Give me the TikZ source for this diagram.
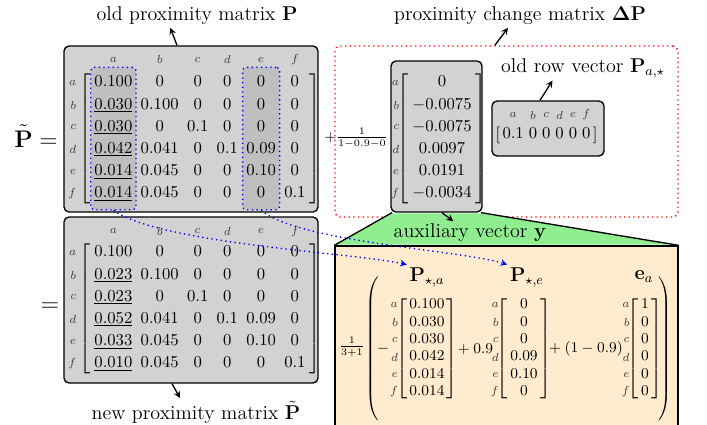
\documentclass[tikz,border=0pt]{standalone}
\usepackage{amsmath, amssymb}
\usepackage{tikz}
\usetikzlibrary{matrix, fit, backgrounds, arrows, positioning}
\definecolor{auxgreen}{RGB}{144,238,144}
\definecolor{auxorange}{RGB}{255,235,205}

\begin{document}
\begin{tikzpicture}[
  x=0.6pt, y=0.6pt,
  box/.style={draw, thick, rounded corners=3pt, fill=gray!35, inner sep=0pt},
  dashbox/.style={draw=red, dotted, thick, rounded corners=3pt, inner sep=0pt},
  auxbox/.style={draw, thick, fill=auxorange, inner sep=0pt},
  colbox/.style={draw=blue, dotted, thick, rounded corners=2pt, fill=gray!50, inner xsep=2pt, inner ysep=4.5pt},
  mat/.style={matrix of math nodes, inner sep=1pt, column sep=5pt, row sep=3.8pt,
    nodes={inner sep=0pt, text height=7pt, text depth=2.5pt},
    left delimiter={[}, right delimiter={]}},
  tight/.style={inner sep=0pt,
    every left delimiter/.style={xshift=1.2pt}, every right delimiter/.style={xshift=-1.2pt}},
  vec/.style={mat, tight, row sep=1.94pt,
    nodes={font=\small, text height=6.5pt, text depth=2pt}},
  lab/.style={font=\scriptsize, text=black!75, inner sep=0pt},
  lbl/.style={font=\large, inner sep=1.5pt},
  term/.style={font=\small},
  flow/.style={-stealth, thick},
  link/.style={-stealth, thick, dotted, blue, looseness=0.5}
]
\useasboundingbox (0,0) rectangle (707,-425);
\clip (0,0) rectangle (707,-425);

% boxes on the right
\node[dashbox, minimum width=205.8pt, minimum height=102.6pt] (dPbox) at (506.5,-131.5) {};
\node[box, minimum width=54.6pt, minimum height=90.6pt] (Dbox) at (436.5,-136.5) {};
\node[box, minimum width=67.2pt, minimum height=33pt] (Rbox) at (548,-128.5) {};
\node[auxbox, minimum width=205.8pt, minimum height=116.4pt] (Ybox) at (506.5,-343) {};
\fill[auxgreen] ([shift={(1pt,-0.4pt)}]Dbox.south west) -- ([shift={(-1pt,-0.4pt)}]Dbox.south east)
  -- ([yshift=0.4pt]Ybox.north east) -- ([yshift=0.4pt]Ybox.north west) -- cycle;
\draw[thick] ([xshift=1pt]Dbox.south west) -- (Ybox.north west)
  ([xshift=-1pt]Dbox.south east) -- (Ybox.north east);

% old and new proximity matrices
\node[font=\Large] (Peq) at (36,-136) {$\tilde{\mathbf{P}} =$};
\matrix[mat] (P) at (200,-138.5) {
  0.100 & 0 & 0 & 0 & 0 & 0 \\
  \underline{0.030} & 0.100 & 0 & 0 & 0 & 0 \\
  \underline{0.030} & 0 & 0.1 & 0 & 0 & 0 \\
  \underline{0.042} & 0.041 & 0 & 0.1 & 0.09 & 0 \\
  \underline{0.014} & 0.045 & 0 & 0 & 0.10 & 0 \\
  \underline{0.014} & 0.045 & 0 & 0 & 0 & 0.1 \\
};
\node[font=\Large] (Neq) at (50,-307) {$=$};
\matrix[mat] (N) at (200,-308.5) {
  0.100 & 0 & 0 & 0 & 0 & 0 \\
  \underline{0.023} & 0.100 & 0 & 0 & 0 & 0 \\
  \underline{0.023} & 0 & 0.1 & 0 & 0 & 0 \\
  \underline{0.052} & 0.041 & 0 & 0.1 & 0.09 & 0 \\
  \underline{0.033} & 0.045 & 0 & 0 & 0.10 & 0 \\
  \underline{0.010} & 0.045 & 0 & 0 & 0 & 0.1 \\
};

% change matrix and old row vector
\node[term] (dPfrac) at (356,-138) {$+\frac{1}{1-0.9-0}$};
\matrix[mat] (D) at (442,-138.5) {
  0 \\ -0.0075 \\ -0.0075 \\ 0.0097 \\ 0.0191 \\ -0.0034 \\
};
\matrix[mat, tight, column sep=3pt] (R) at (546.5,-135) {
  0.1 & 0 & 0 & 0 & 0 & 0 \\
};

% auxiliary vector
\node[term] (yfrac) at (352,-347) {$\frac{1}{3+1}$};
\node[term] (lpar) at (373,-348.5) {$\left(\vcenter{\hbox{\rule{0pt}{90pt}}}\right.$};
\node[term] (minus) at (383,-349) {$-$};
\matrix[vec] (Va) at (427,-348.5) {
  0.100 \\ 0.030 \\ 0.030 \\ 0.042 \\ 0.014 \\ 0.014 \\
};
\node[term] (plus) at (475.5,-349) {$+\:0.9$};
\matrix[vec] (Ve) at (524,-348.5) {
  0 \\ 0 \\ 0 \\ 0.09 \\ 0.10 \\ 0 \\
};
\node[term] (plusb) at (586,-349) {$+\:(1-0.9)$};
\matrix[vec] (Vea) at (645,-348.5) {
  1 \\ 0 \\ 0 \\ 0 \\ 0 \\ 0 \\
};
\node[term] (rpar) at (664,-348.5) {$\left.\vcenter{\hbox{\rule{0pt}{90pt}}}\right)$};
\node[lbl] (Valbl) at (427,-277) {$\mathbf{P}_{\star,a}$};
\node[lbl] (Velbl) at (527,-277) {$\mathbf{P}_{\star,e}$};
\node[lbl] (Vealbl) at (644,-277) {$\mathbf{e}_{a}$};

% row and column labels
\foreach \nm [count=\i] in {a,...,f} {
  \node[lab, left=9.5pt] (Pr\i) at (P.west |- P-\i-1) {$\nm$};
  \node[lab] (Pc\i) at ([yshift=14pt]P-1-\i) {$\nm$};
  \node[lab, left=9.5pt] (Nr\i) at (N.west |- N-\i-1) {$\nm$};
  \node[lab] (Nc\i) at ([yshift=13pt]N-1-\i) {$\nm$};
  \node[lab, left=6.5pt] (Dr\i) at (D.west |- D-\i-1) {$\nm$};
  \node[lab] (Rc\i) at ([yshift=12pt]R-1-\i) {$\nm$};
  \node[lab, left=6.5pt] (Var\i) at (Va.west |- Va-\i-1) {$\nm$};
  \node[lab, left=6.5pt] (Ver\i) at (Ve.west |- Ve-\i-1) {$\nm$};
  \node[lab, left=6.5pt] (Vear\i) at (Vea.west |- Vea-\i-1) {$\nm$};
}

% captions
\node[lbl] (Plbl) at (197,-16) {old proximity matrix $\mathbf{P}$};
\node[lbl] (dPlbl) at (520,-16) {proximity change matrix $\mathbf{\Delta P}$};
\node[lbl] (Rlbl) at (583,-68) {old row vector $\mathbf{P}_{a,\star}$};
\node[lbl] (Nlbl) at (196,-412) {new proximity matrix $\tilde{\mathbf{P}}$};
\node[lbl] (Ylbl) at (470,-233) {auxiliary vector $\mathbf{y}$};

\begin{scope}[on background layer]
  \node[box, minimum width=152.4pt, minimum height=99.6pt] (Pbox) at (191,-129) {};
  \node[box, minimum width=152.4pt, minimum height=99.6pt] (Nbox) at (191,-300) {};
  \node[colbox, fit=(P-1-1)(P-6-1)] (Pcola) {};
  \node[colbox, fit=(P-1-5)(P-4-5)(P-6-5)] (Pcole) {};
\end{scope}

\draw[flow] ([xshift=-8.4pt]Pbox.north) -- ([xshift=-16pt]Plbl.south);
\draw[flow] ([xshift=-7pt]dPbox.north) -- ([xshift=-7.2pt]dPlbl.south);
\draw[flow] ([xshift=-4.8pt]Rbox.north) -- ([xshift=-18.3pt]Rlbl.south);
\draw[flow] ([xshift=-11.4pt]Nbox.south) -- ([xshift=-9.6pt]Nlbl.north);
\draw[flow] ([xshift=3.3pt]Dbox.south) -- ([xshift=-10pt]Ylbl.north);
\draw[link] (Pcola.south) to[out=-35, in=168] (Valbl.north west);
\draw[link] (Pcole.south) to[out=-40, in=163] (Velbl.north west);
\end{tikzpicture}
\end{document}
